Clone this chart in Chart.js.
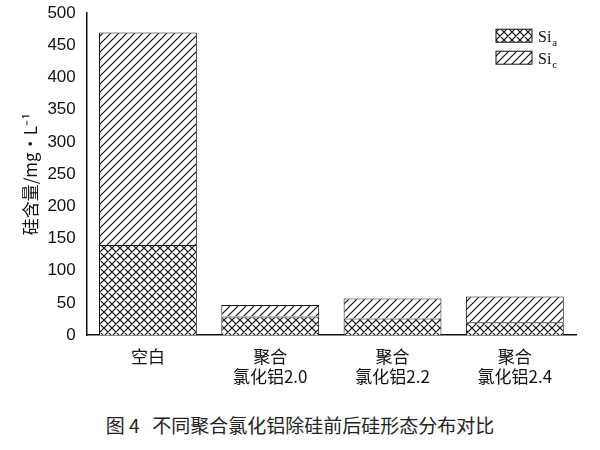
<!DOCTYPE html>
<html><head><meta charset="utf-8">
<script src="https://cdn.jsdelivr.net/npm/chart.js@4"></script>
<style>
body{margin:0;background:#fff;width:600px;height:450px;overflow:hidden;font-family:"Noto Sans CJK SC";}
#wrap{position:absolute;left:0;top:0;width:600px;height:390px;}
#cap{position:absolute;left:0;top:411px;width:600px;text-align:center;font-size:19px;color:#222;}
</style></head><body>
<div id="wrap"><canvas id="c"></canvas></div>
<div id="cap">图 4&nbsp;&nbsp;&nbsp;不同聚合氯化铝除硅前后硅形态分布对比</div>
<script>
var categories = [["空白"], ["聚合", "氯化铝2.0"], ["聚合", "氯化铝2.2"], ["聚合", "氯化铝2.4"]];
var siA = [140, 29, 26, 20];
var siC = [330, 18, 31, 40];
var yTicks = [0, 50, 100, 150, 200, 250, 300, 350, 400, 450, 500];

function makePattern(cross) {
    var p = document.createElement("canvas");
    p.width = 8; p.height = 8;
    var g = p.getContext("2d");
    g.fillStyle = "#fff"; g.fillRect(0, 0, 8, 8);
    g.strokeStyle = "#111"; g.lineWidth = 1.2;
    g.beginPath();
    g.moveTo(0, 8); g.lineTo(8, 0);
    g.moveTo(-2, 2); g.lineTo(2, -2);
    g.moveTo(6, 10); g.lineTo(10, 6);
    if (cross) {
        g.moveTo(0, 0); g.lineTo(8, 8);
        g.moveTo(-2, 6); g.lineTo(2, 10);
        g.moveTo(6, -2); g.lineTo(10, 2);
    }
    g.stroke();
    return document.getElementById("c").getContext("2d").createPattern(p, "repeat");
}
var patA = makePattern(true);
var patC = makePattern(false);

var legendPlugin = {
    id: "subLegend",
    afterDraw: function (chart) {
        var ctx = chart.ctx, a = chart.chartArea;
        var items = [["Si", "a", patA], ["Si", "c", patC]];
        var x = a.right - 80, y = a.top + 16;
        items.forEach(function (it, i) {
            var yy = y + i * 22;
            ctx.fillStyle = it[2]; ctx.fillRect(x, yy, 36, 13);
            ctx.strokeStyle = "#111"; ctx.lineWidth = 1; ctx.strokeRect(x, yy, 36, 13);
            ctx.fillStyle = "#111"; ctx.textBaseline = "alphabetic";
            ctx.font = "16px 'Liberation Serif'";
            ctx.fillText(it[0], x + 42, yy + 13);
            var w = ctx.measureText("Si").width;
            ctx.font = "11px 'Liberation Serif'";
            ctx.fillText(it[1], x + 43 + w, yy + 17);
        });
    }
};

new Chart(document.getElementById("c"), {
    type: "bar",
    data: {
        labels: categories,
        datasets: [
            { label: "Sia", data: siA, backgroundColor: patA, borderColor: "#111", borderWidth: 1, barPercentage: 0.8, categoryPercentage: 1 },
            { label: "Sic", data: siC, backgroundColor: patC, borderColor: "#111", borderWidth: 1, barPercentage: 0.8, categoryPercentage: 1 }
        ]
    },
    options: {
        responsive: true, maintainAspectRatio: false, animation: false,
        layout: { padding: { left: 16, right: 24, top: 12 } },
        plugins: { legend: { display: false }, tooltip: { enabled: false } },
        scales: {
            x: {
                stacked: true,
                grid: { display: false },
                border: { color: "#111", width: 1.5 },
                ticks: { color: "#111", font: { size: 17, family: "Noto Sans CJK SC" }, maxRotation: 0 }
            },
            y: {
                stacked: true, min: 0, max: 500,
                afterBuildTicks: function (s) { s.ticks = yTicks.map(function (v) { return { value: v }; }); },
                grid: { display: false },
                border: { color: "#111", width: 1.5 },
                ticks: { color: "#111", font: { size: 17, family: "Liberation Sans" } },
                title: { display: true, text: "硅含量/mg・L⁻¹", color: "#111", font: { size: 17, family: "Noto Sans CJK SC" } }
            }
        }
    },
    plugins: [legendPlugin]
});
</script>
</body></html>
